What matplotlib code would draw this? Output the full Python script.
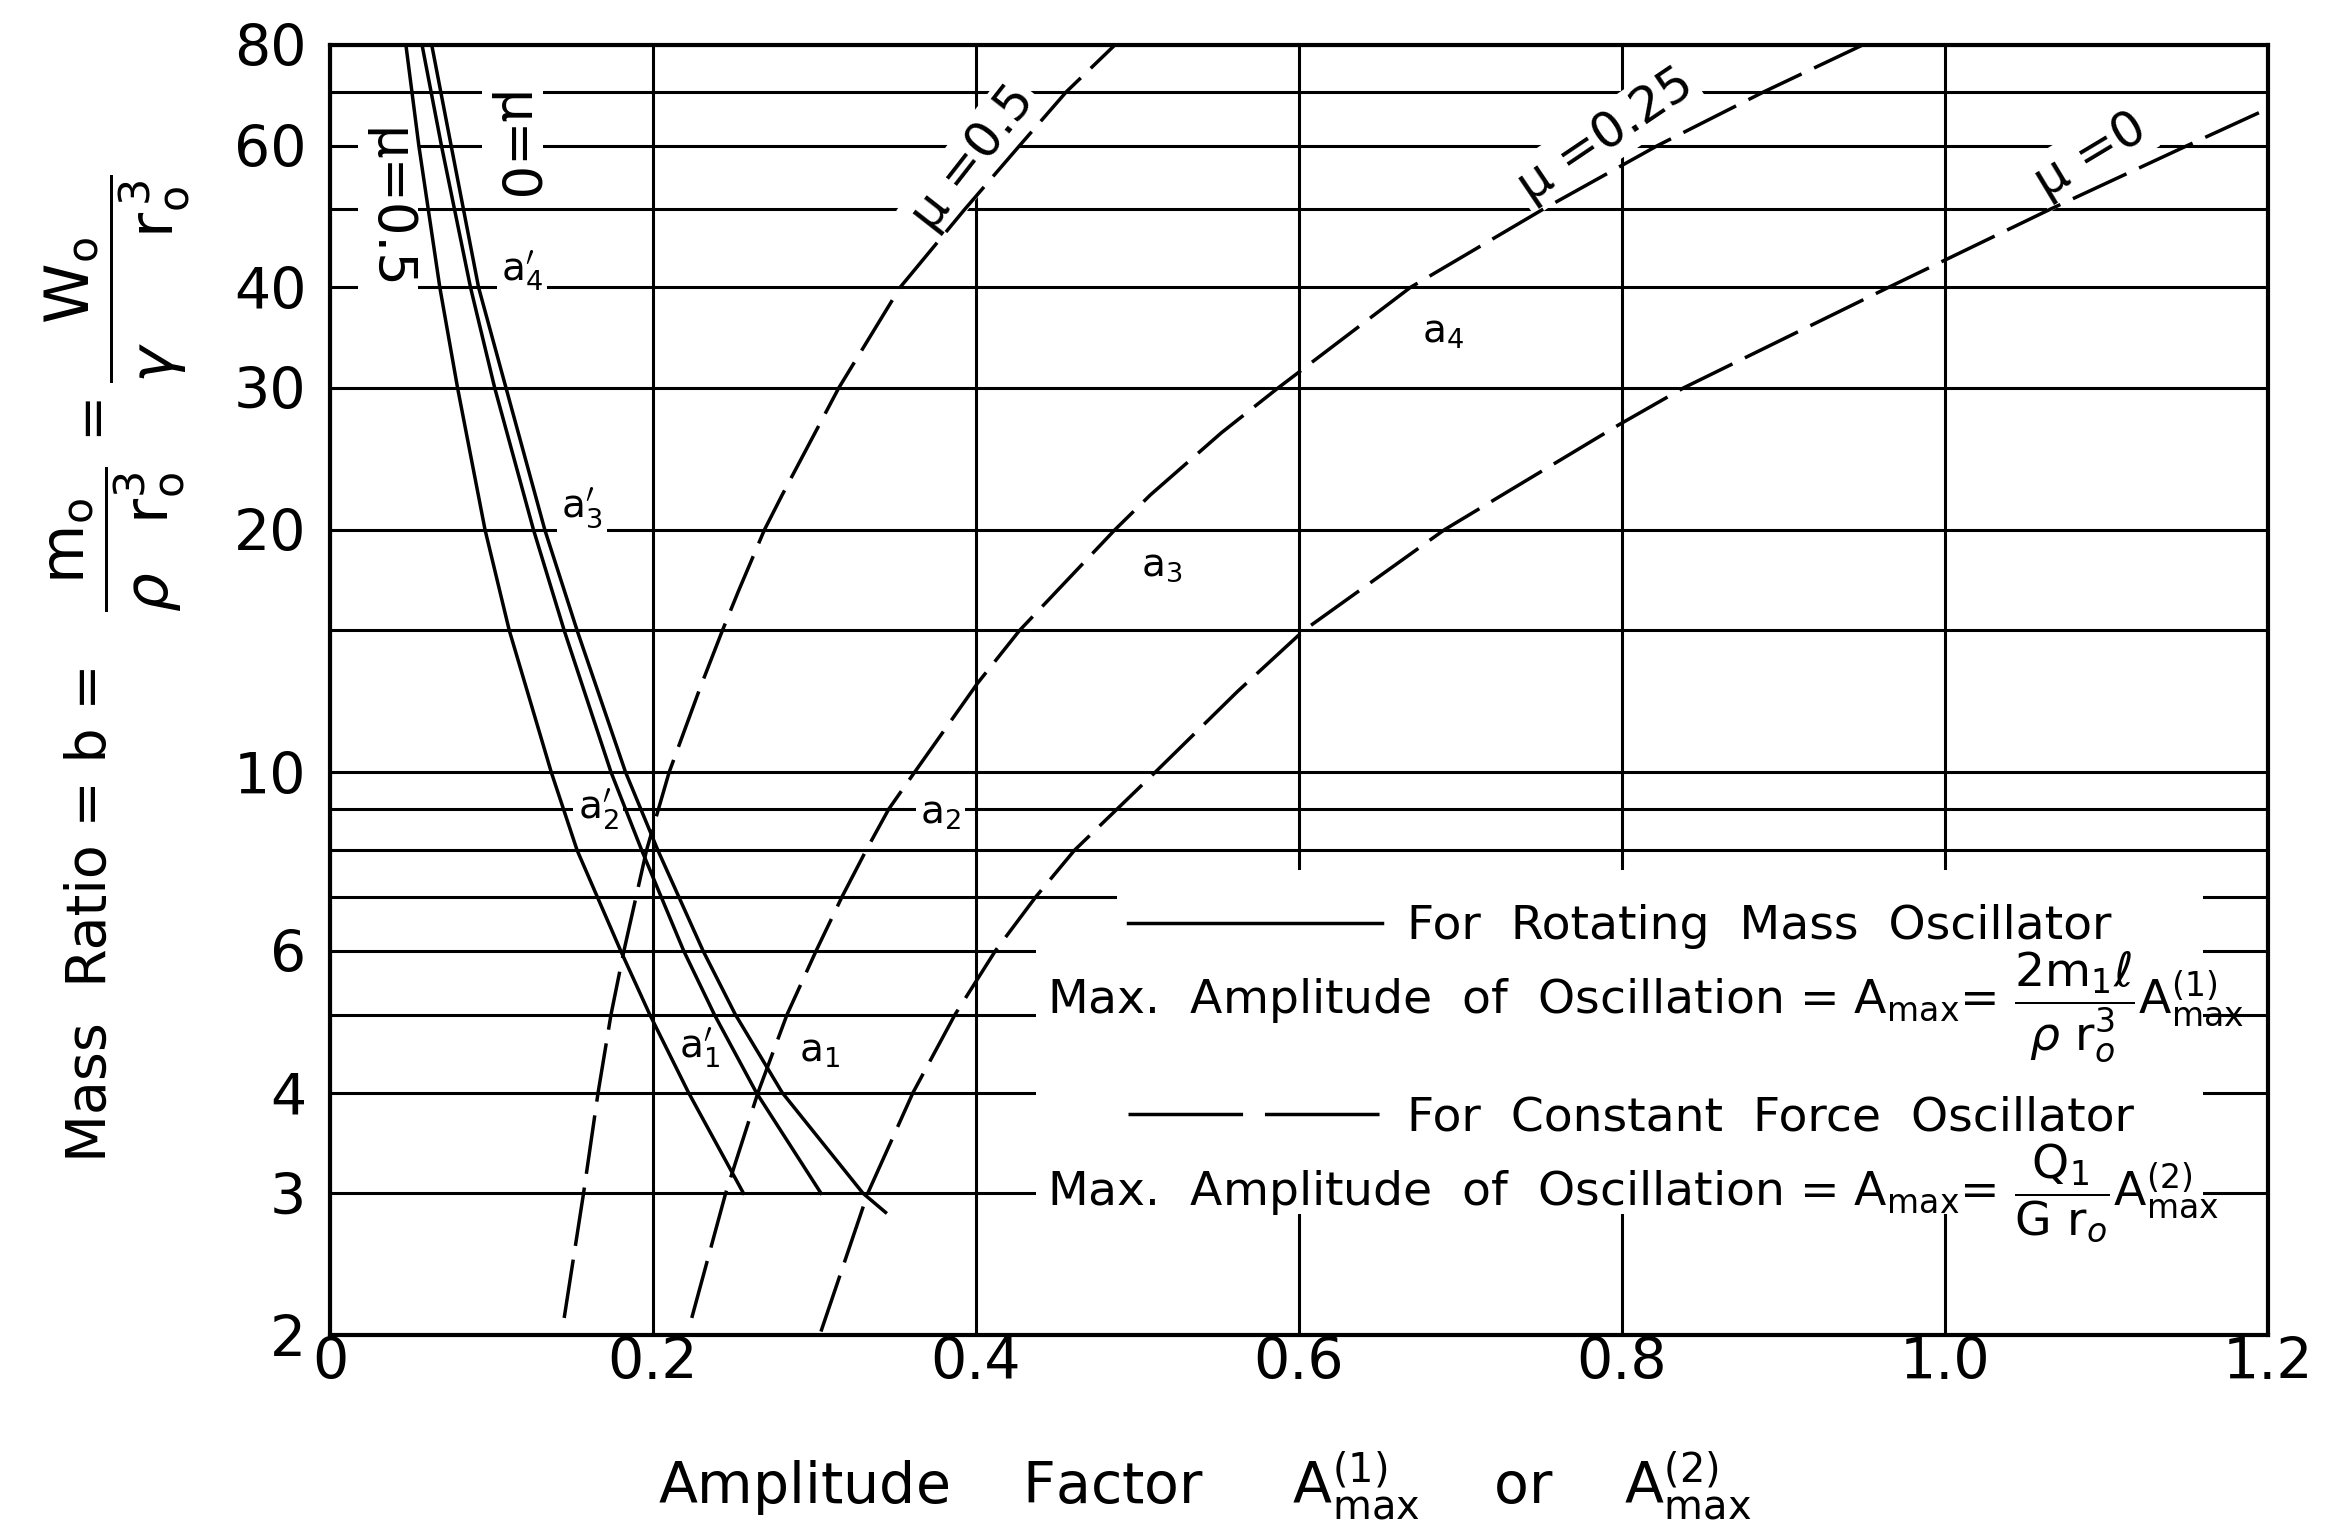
import matplotlib
matplotlib.use('Agg')
import matplotlib.pyplot as plt
from matplotlib.patches import Polygon
from matplotlib.lines import Line2D
from matplotlib.ticker import FixedLocator, NullFormatter

plt.rcParams['font.family'] = ['DejaVu Sans']
plt.rcParams['mathtext.fontset'] = 'dejavusans'

# ---------------- data ----------------
# solid curves (rotating mass oscillator), mass ratio b vs A(1)max
y_solid = [80, 60, 40, 30, 20, 15, 10, 8, 6, 5, 4, 3]
x_solid_mu05 = [0.047, 0.055, 0.068, 0.079, 0.096, 0.111, 0.137, 0.153, 0.180, 0.198, 0.222, 0.256]
x_solid_mu025 = [0.057, 0.069, 0.087, 0.102, 0.126, 0.145, 0.174, 0.193, 0.219, 0.238, 0.264, 0.304]
y_solid_mu0 = [80, 60, 40, 30, 20, 15, 10, 8, 6, 5, 4, 3, 2.84]
x_solid_mu0 = [0.063, 0.075, 0.092, 0.109, 0.133, 0.153, 0.183, 0.203, 0.231, 0.251, 0.280, 0.330, 0.344]

# dashed curves (constant force oscillator), mass ratio b vs A(2)max
y_dash_mu05 = [2.1, 3, 4, 5, 6, 8, 10, 12.7, 15, 16.8, 20, 22.1, 30, 40, 50, 60, 70, 80]
x_dash_mu05 = [0.145, 0.157, 0.166, 0.174, 0.182, 0.196, 0.210, 0.229, 0.243, 0.253, 0.269, 0.280,
               0.315, 0.353, 0.393, 0.427, 0.456, 0.486]
y_dash_mu025 = [2.1, 3, 4, 5, 6, 7, 8, 9, 10, 12.9, 15, 20, 22.1, 26.4, 30, 40, 50, 60, 70, 80]
x_dash_mu025 = [0.224, 0.245, 0.265, 0.283, 0.301, 0.317, 0.332, 0.346, 0.362, 0.401, 0.427, 0.486,
                0.508, 0.552, 0.587, 0.669, 0.751, 0.822, 0.888, 0.949]
y_dash_mu0 = [2.02, 3, 4, 5, 6, 7, 8, 10, 12.6, 15, 20, 27, 30, 40, 50, 60, 66]
x_dash_mu0 = [0.304, 0.333, 0.361, 0.387, 0.412, 0.437, 0.461, 0.511, 0.562, 0.603, 0.690, 0.798,
              0.838, 0.965, 1.065, 1.150, 1.195]

x_ticks = [0, 0.2, 0.4, 0.6, 0.8, 1.0, 1.2]
x_tick_labels = ['0', '0.2', '0.4', '0.6', '0.8', '1.0', '1.2']
y_ticks = [2, 3, 4, 6, 10, 20, 30, 40, 60, 80]
y_tick_labels = ['2', '3', '4', '6', '10', '20', '30', '40', '60', '80']
y_minor = [5, 7, 8, 9, 15, 50, 70]

point_labels = [r'$\mathrm{a}_4^{\prime}$', r'$\mathrm{a}_3^{\prime}$', r'$\mathrm{a}_2^{\prime}$',
                r'$\mathrm{a}_1^{\prime}$', r'$\mathrm{a}_1$', r'$\mathrm{a}_2$', r'$\mathrm{a}_3$', r'$\mathrm{a}_4$']
point_label_x = [0.119, 0.156, 0.166, 0.229, 0.303, 0.378, 0.515, 0.689]
point_label_y = [42.0, 21.3, 9.0, 4.55, 4.5, 8.9, 18.1, 35.2]

curve_labels = ['μ =0.5', 'μ =0.25', 'μ =0']
curve_label_x = [0.398, 0.790, 1.090]
curve_label_y = [57.9, 61.8, 58.4]
curve_label_rot = [52, 34, 31]

side_labels = ['μ=0.5', 'μ=0']
side_label_x = [0.036, 0.113]
side_label_y = [50.0, 59.7]

legend_titles = ['For  Rotating  Mass  Oscillator', 'For  Constant  Force  Oscillator']
formula_1 = (r'Max.  Amplitude  of  Oscillation = $\mathrm{A}_{\mathrm{max}}$= '
             r'$\dfrac{2\mathrm{m}_1\ell}{\rho\ \mathrm{r}_o^3}\mathrm{A}_{\mathrm{max}}^{(1)}$')
formula_2 = (r'Max.  Amplitude  of  Oscillation = $\mathrm{A}_{\mathrm{max}}$= '
             r'$\dfrac{\mathrm{Q}_1}{\mathrm{G\ r}_o}\mathrm{A}_{\mathrm{max}}^{(2)}$')

xlabel_text = (r'Amplitude    Factor     $\mathrm{A}_{\mathrm{max}}^{(1)}$    or    '
               r'$\mathrm{A}_{\mathrm{max}}^{(2)}$')
ylabel_plain = 'Mass  Ratio = b ='
ylabel_frac1 = r'$\dfrac{\mathrm{m_o}}{\rho\;\;\;\mathrm{r_o^3}}$'
ylabel_eq = '='
ylabel_frac2 = r'$\dfrac{\mathrm{W_o}}{\gamma\quad\;\;\;\mathrm{r_o^{\,3}}}$'

# ---------------- figure ----------------
W, H = 2333, 1532
fig = plt.figure(figsize=(W / 100, H / 100), dpi=100)
L, R, T, B = 330, 2268, 45, 1335
ax = fig.add_axes([L / W, 1 - B / H, (R - L) / W, (B - T) / H])
ax.set_yscale('log')
ax.set_xlim(0, 1.2)
ax.set_ylim(2, 80)

ax.xaxis.set_major_locator(FixedLocator(x_ticks))
ax.set_xticklabels(x_tick_labels)
ax.yaxis.set_major_locator(FixedLocator(y_ticks))
ax.set_yticklabels(y_tick_labels)
ax.yaxis.set_minor_locator(FixedLocator(y_minor))
ax.yaxis.set_minor_formatter(NullFormatter())
ax.xaxis.set_minor_locator(FixedLocator([]))
ax.tick_params(which='both', length=0, labelsize=41, colors='black')
ax.tick_params(axis='y', pad=17)
ax.tick_params(axis='x', pad=1)

ax.grid(True, which='both', axis='y', color='black', lw=2.2)
ax.grid(True, which='major', axis='x', color='black', lw=2.2)
ax.set_axisbelow(True)
for s in ax.spines.values():
    s.set_linewidth(3)
    s.set_color('black')
    s.set_zorder(6)

# white area behind legend
poly = Polygon([[0.437, 2.83], [1.16, 2.83], [1.16, 7.55], [0.487, 7.55], [0.487, 6.6], [0.437, 6.6]],
               closed=True, facecolor='white', edgecolor='none', zorder=1.5)
ax.add_patch(poly)

lw = 2.5
dash = (17, 4)
ax.plot(x_solid_mu05, y_solid, color='black', lw=lw, zorder=3)
ax.plot(x_solid_mu025, y_solid, color='black', lw=lw, zorder=3)
ax.plot(x_solid_mu0, y_solid_mu0, color='black', lw=lw, zorder=3)
ax.plot(x_dash_mu05, y_dash_mu05, color='black', lw=lw, dashes=dash, zorder=3)
ax.plot(x_dash_mu025, y_dash_mu025, color='black', lw=lw, dashes=dash, zorder=3)
ax.plot(x_dash_mu0, y_dash_mu0, color='black', lw=lw, dashes=dash, zorder=3)

wb = dict(facecolor='white', edgecolor='none', pad=3)
for t, x, y in zip(point_labels, point_label_x, point_label_y):
    ax.text(x, y, t, fontsize=28, ha='center', va='center', bbox=wb, zorder=2)
for t, x, y, r in zip(curve_labels, curve_label_x, curve_label_y, curve_label_rot):
    ax.text(x, y, t, fontsize=36, ha='center', va='center', rotation=r,
            rotation_mode='anchor', bbox=wb, zorder=2)
for t, x, y in zip(side_labels, side_label_x, side_label_y):
    ax.text(x, y, t, fontsize=38, ha='center', va='center', rotation=-90, bbox=wb, zorder=2)

# legend
handles = [Line2D([], [], color='black', lw=lw),
           Line2D([], [], color='black', lw=lw, dashes=(33, 6.3))]
leg = ax.legend(handles, legend_titles, loc='upper left', bbox_to_anchor=(0.412, 0.334),
                frameon=False, fontsize=34, handlelength=5.36, handletextpad=0.53,
                labelspacing=3.1, borderpad=0, borderaxespad=0)
leg.set_zorder(5)
ax.text(0.444, 5.1, formula_1, fontsize=34, ha='left', va='center', zorder=5)
ax.text(0.444, 3.0, formula_2, fontsize=34, ha='left', va='center', zorder=5)

# axis labels
fig.text(1205 / W, 1 - 1486 / H, xlabel_text, fontsize=41, ha='center', va='center')
fig.text(91 / W, 1 - 913 / H, ylabel_plain, fontsize=40, ha='center', va='center', rotation=90)
fig.text(118 / W, 1 - 539 / H, ylabel_frac1, fontsize=44, ha='center', va='center', rotation=90)
fig.text(91 / W, 1 - 413 / H, ylabel_eq, fontsize=40, ha='center', va='center', rotation=90)
fig.text(118 / W, 1 - 279 / H, ylabel_frac2, fontsize=44, ha='center', va='center', rotation=90)

fig.savefig('out.png', dpi=100, facecolor='white')
